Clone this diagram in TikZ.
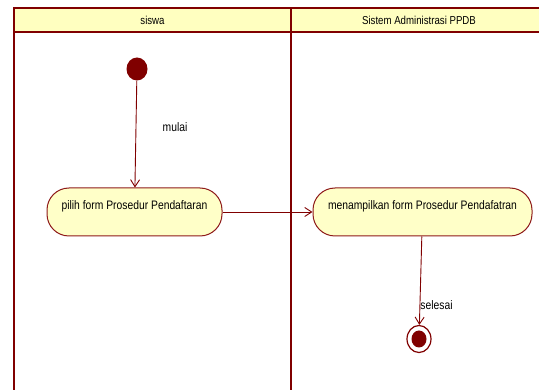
\documentclass[tikz,border=0pt]{standalone}
\usepackage{fontspec}
\setmainfont[FakeStretch=0.84]{Liberation Sans}
\usetikzlibrary{arrows.meta}
\definecolor{lane}{HTML}{800000}
\definecolor{headfill}{HTML}{FFFFC0}
\definecolor{actfill}{HTML}{FFFFC8}
\definecolor{actline}{HTML}{8E1A1A}
\tikzset{
  lanebar/.style={draw=lane, line width=2.6pt},
  lanehead/.style={font=\fontsize{11.5}{13}\selectfont, text=black},
  activity/.style={draw=actline, fill=actfill, line width=1pt, rounded corners=22pt,
    minimum width=#1, inner xsep=0pt, inner ysep=0pt,
    text height=21.5pt, text depth=26.5pt, font=\fontsize{12.3}{14}\selectfont, text=black},
  startdot/.style={ellipse, fill=lane, minimum width=21pt, minimum height=23pt, inner sep=0pt},
  enddot/.style={ellipse, draw=lane, line width=1.2pt, fill=white, minimum width=24pt, minimum height=27pt, inner sep=0pt},
  flow/.style={draw=lane, line width=0.9pt, -{Straight Barb[length=7pt,width=9pt,line width=0.9pt]}},
  guard/.style={font=\fontsize{12.3}{14}\selectfont, text=black}
}
\usetikzlibrary{shapes.geometric}
\begin{document}
\begin{tikzpicture}[x=1pt, y=-1pt]
\useasboundingbox (0,0) rectangle (539,390);
\begin{scope}
\clip (0,0) rectangle (539,390);
% swimlane header band and frame
\fill[headfill] (14,8) rectangle (560,32);
\draw[lanebar] (560,8) -- (14,8) -- (14,400);
\draw[lanebar] (14,32) -- (560,32);
\draw[lanebar] (291,8) -- (291,400);
\end{scope}
\node[lanehead] (laneA) at (152.5,20) {siswa};
\node[lanehead] (laneB) at (419,20) {Sistem Administrasi PPDB};
% activities
\node[startdot] (start) at (137,69) {};
\node[activity=175pt] (act1) at (134.5,212) {pilih form Prosedur Pendaftaran};
\node[activity=219pt] (act2) at (422.5,212) {menampilkan form Prosedur Pendafatran};
\node[enddot] (final) at (419,339) {};
\node[ellipse, fill=lane, minimum width=15pt, minimum height=17pt, inner sep=0pt] (finaldot) at (final) {};
% flows
\draw[flow] (start) -- (act1);
\draw[flow] (act1) -- (act2);
\draw[flow] (act2) -- (final);
\node[guard] (g1) at (175,127) {mulai};
\node[guard] (g2) at (436.5,305) {selesai};
\end{tikzpicture}
\end{document}
